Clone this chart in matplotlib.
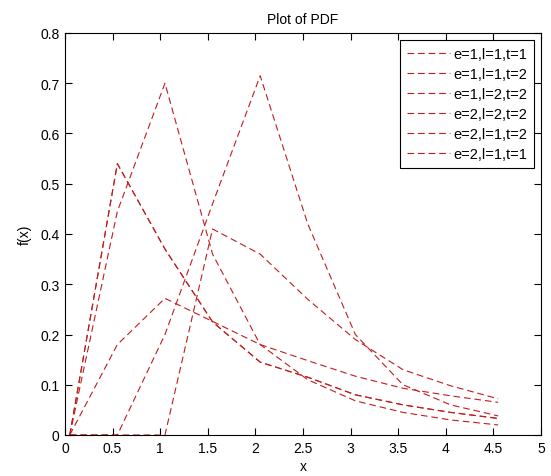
import numpy as np
import matplotlib
matplotlib.use("Agg")
import matplotlib.pyplot as plt

plt.rcParams["font.family"] = ["Liberation Sans", "DejaVu Sans"]
plt.rcParams["font.size"] = 10

x = [0.05, 0.55, 1.05, 1.55, 2.05, 2.55, 3.05, 3.55, 4.05, 4.55]

# values
f_111 = [0, 0.445, 0.70, 0.36, 0.18, 0.11, 0.068, 0.045, 0.030, 0.020]
f_112 = [0, 0.54, 0.37, 0.225, 0.145, 0.115, 0.080, 0.060, 0.045, 0.033]
f_122 = [0, 0, 0.20, 0.46, 0.715, 0.42, 0.20, 0.10, 0.060, 0.038]
f_222 = [0, 0, 0, 0.41, 0.36, 0.27, 0.19, 0.13, 0.098, 0.072]
f_212 = [0, 0.18, 0.272, 0.226, 0.18, 0.148, 0.117, 0.093, 0.078, 0.065]
f_211 = [0, 0.54, 0.37, 0.225, 0.145, 0.115, 0.080, 0.060, 0.045, 0.033]

labels = ["e=1,l=1,t=1", "e=1,l=1,t=2", "e=1,l=2,t=2",
          "e=2,l=2,t=2", "e=2,l=1,t=2", "e=2,l=1,t=1"]
series = [f_111, f_112, f_122, f_222, f_212, f_211]

fig = plt.figure(figsize=(5.51, 4.77), dpi=100)
ax = fig.add_axes([65 / 551, 41 / 477, 476 / 551, 402 / 477])

for y, lab in zip(series, labels):
    ax.plot(x, y, color="#c01c1c", lw=0.8, linestyle=(0, (6, 3.5)), label=lab)

ax.set_xlim(0, 5)
ax.set_ylim(0, 0.8)
ax.set_xticks(np.arange(0, 5.01, 0.5))
ax.set_yticks(np.arange(0, 0.81, 0.1))
ax.set_xticklabels(["0", "0.5", "1", "1.5", "2", "2.5", "3", "3.5", "4", "4.5", "5"])
ax.set_yticklabels(["0", "0.1", "0.2", "0.3", "0.4", "0.5", "0.6", "0.7", "0.8"])
ax.tick_params(direction="in", length=5, width=0.8, top=True, right=True,
               labelsize=10, pad=4)
for s in ax.spines.values():
    s.set_linewidth(0.8)

ax.set_title("Plot of PDF", fontsize=10, pad=7)
ax.set_xlabel("x", fontsize=10, labelpad=3)
ax.set_ylabel("f(x)", fontsize=10, labelpad=6)

leg = ax.legend(loc="upper right", fontsize=10.5, frameon=True, fancybox=False,
                edgecolor="black", framealpha=1, handlelength=3.0,
                handletextpad=0.2, labelspacing=0.42, borderaxespad=0.5,
                borderpad=0.45)
leg.get_frame().set_linewidth(0.8)

fig.savefig("out.png", dpi=100)
